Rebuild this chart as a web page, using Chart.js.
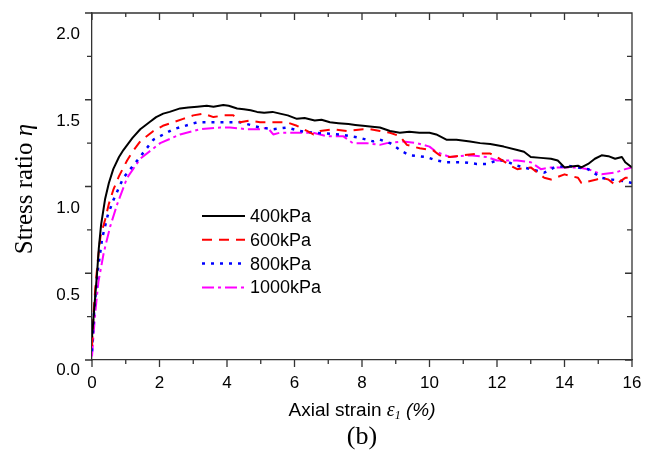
<!DOCTYPE html>
<html>
<head>
<meta charset="utf-8">
<script src="https://cdn.jsdelivr.net/npm/chart.js@4.4.1/dist/chart.umd.min.js"></script>
<style>
  html, body { margin: 0; padding: 0; background: #fff; }
  canvas { display: block; }
</style>
</head>
<body>
<canvas id="myChart" width="649" height="457"></canvas>
<script>
// series names / colours
const seriesNames = ['400kPa', '600kPa', '800kPa', '1000kPa'];
const seriesColors = ['#000000', '#ff0000', '#0000ff', '#ff00ff'];

// 400kPa
const strain400 = [0, 0.1, 0.15, 0.2, 0.27, 0.39, 0.5, 0.63, 0.8, 0.93, 1.2, 1.43, 1.7, 1.9, 2.11, 2.3, 2.61, 2.85, 3.12, 3.4, 3.6, 3.89, 4.05, 4.3, 4.5, 4.7, 4.89, 5.1, 5.35, 5.57, 5.8, 6.07, 6.3, 6.6, 6.8, 7.05, 7.3, 7.6, 7.8, 8.03, 8.3, 8.53, 8.83, 9.12, 9.4, 9.7, 10.0, 10.2, 10.5, 10.8, 11.2, 11.5, 11.8, 12.2, 12.6, 12.8, 13.0, 13.3, 13.6, 13.8, 14.0, 14.2, 14.4, 14.5, 14.7, 14.9, 15.1, 15.3, 15.5, 15.7, 15.8, 16.0];
const ratio400 = [0.13, 0.38, 0.5, 0.64, 0.78, 0.93, 1.02, 1.1, 1.17, 1.21, 1.28, 1.33, 1.37, 1.40, 1.42, 1.43, 1.45, 1.455, 1.46, 1.465, 1.46, 1.47, 1.465, 1.45, 1.445, 1.44, 1.43, 1.425, 1.43, 1.42, 1.41, 1.39, 1.395, 1.38, 1.385, 1.37, 1.365, 1.36, 1.355, 1.35, 1.345, 1.34, 1.32, 1.31, 1.315, 1.31, 1.31, 1.30, 1.27, 1.27, 1.26, 1.25, 1.245, 1.23, 1.21, 1.20, 1.17, 1.165, 1.16, 1.15, 1.11, 1.115, 1.12, 1.11, 1.13, 1.16, 1.18, 1.175, 1.16, 1.17, 1.14, 1.11];

// 600kPa
const strain600 = [0, 0.05, 0.1, 0.17, 0.25, 0.39, 0.5, 0.63, 0.8, 1.04, 1.2, 1.43, 1.82, 2.1, 2.41, 2.7, 3.0, 3.3, 3.6, 3.9, 4.19, 4.39, 4.68, 4.98, 5.37, 5.77, 6.07, 6.37, 6.56, 6.76, 7.15, 7.55, 8.03, 8.24, 8.53, 8.83, 9.12, 9.33, 9.71, 10.1, 10.3, 10.6, 11.0, 11.5, 11.8, 12.0, 12.4, 12.6, 13.0, 13.4, 13.6, 14.0, 14.4, 14.5, 14.95, 15.1, 15.3, 15.5, 15.8, 16.0];
const ratio600 = [0.08, 0.28, 0.42, 0.57, 0.71, 0.81, 0.9, 0.98, 1.06, 1.15, 1.2, 1.26, 1.32, 1.35, 1.37, 1.39, 1.41, 1.42, 1.40, 1.41, 1.41, 1.37, 1.38, 1.37, 1.37, 1.37, 1.35, 1.32, 1.30, 1.32, 1.33, 1.32, 1.33, 1.33, 1.32, 1.31, 1.29, 1.24, 1.22, 1.21, 1.18, 1.17, 1.18, 1.19, 1.19, 1.17, 1.12, 1.10, 1.11, 1.05, 1.04, 1.07, 1.05, 1.02, 1.04, 1.05, 1.04, 1.01, 1.05, 1.05];

// 800kPa
const strain800 = [0, 0.05, 0.1, 0.16, 0.3, 0.46, 0.63, 0.93, 1.34, 1.82, 2.41, 3.12, 3.6, 4.0, 4.39, 4.98, 5.37, 5.77, 6.16, 6.55, 7.35, 7.94, 8.33, 8.53, 8.83, 9.21, 9.42, 9.92, 10.2, 10.5, 11.0, 11.4, 11.7, 12.0, 12.2, 12.6, 13.0, 13.4, 13.7, 14.1, 14.4, 14.7, 15.1, 15.4, 15.8, 16.0];
const ratio800 = [0.05, 0.24, 0.36, 0.5, 0.7, 0.83, 0.92, 1.05, 1.15, 1.27, 1.33, 1.37, 1.37, 1.37, 1.37, 1.34, 1.33, 1.34, 1.32, 1.31, 1.30, 1.28, 1.26, 1.27, 1.25, 1.20, 1.18, 1.17, 1.15, 1.14, 1.14, 1.13, 1.13, 1.15, 1.15, 1.12, 1.10, 1.08, 1.11, 1.12, 1.11, 1.10, 1.05, 1.04, 1.03, 1.02];

// 1000kPa
const strain1000 = [0, 0.05, 0.1, 0.19, 0.35, 0.54, 0.75, 1.04, 1.43, 2.02, 2.61, 3.2, 3.8, 4.09, 4.6, 4.98, 5.2, 5.37, 5.57, 6.07, 6.55, 6.96, 7.44, 7.73, 8.14, 8.53, 8.74, 9.21, 9.62, 10.0, 10.2, 10.6, 11.2, 11.7, 12.0, 12.6, 13.0, 13.3, 13.6, 14.0, 14.4, 14.7, 15.1, 15.5, 15.8, 16.0];
const ratio1000 = [0.02, 0.16, 0.28, 0.45, 0.62, 0.77, 0.9, 1.05, 1.16, 1.25, 1.30, 1.33, 1.34, 1.34, 1.33, 1.33, 1.34, 1.30, 1.31, 1.31, 1.31, 1.29, 1.29, 1.25, 1.25, 1.24, 1.25, 1.26, 1.25, 1.23, 1.20, 1.17, 1.18, 1.17, 1.15, 1.15, 1.14, 1.10, 1.11, 1.11, 1.11, 1.10, 1.07, 1.08, 1.10, 1.11];

// tick labels (y labels sit half a minor step below their major tick, as in the figure)
const xTickLabels = ['0', '2', '4', '6', '8', '10', '12', '14', '16'];
const yTickLabels = ['0.0', '0.5', '1.0', '1.5', '2.0'];

const axisColor = '#333333';
const sans = '"Liberation Sans", Arial, sans-serif';
const serif = '"Liberation Serif", "Times New Roman", serif';

const toPoints = (xs, ys) => xs.map((v, i) => ({ x: v, y: ys[i] }));

// tick marks on all four sides, inward on top/right
const frame = {
  id: 'frame',
  afterDraw(chart) {
    const { ctx, chartArea: a, scales: { x, y } } = chart;
    ctx.save();
    ctx.strokeStyle = axisColor;
    ctx.lineWidth = 1.3;
    ctx.beginPath();
    ctx.moveTo(a.left, a.top);
    ctx.lineTo(a.right, a.top);
    ctx.lineTo(a.right, a.bottom);
    x.ticks.forEach(t => {
      const px = x.getPixelForValue(t.value);
      const len = t.value % 2 === 0 ? 7 : 4;
      ctx.moveTo(px, a.bottom); ctx.lineTo(px, a.bottom + len);
      ctx.moveTo(px, a.top); ctx.lineTo(px, a.top + len);
    });
    y.ticks.forEach(t => {
      if ((t.value * 4) % 1 !== 0) return;
      const py = y.getPixelForValue(t.value);
      const len = (t.value * 2) % 1 === 0 ? 7 : 5;
      ctx.moveTo(a.left, py); ctx.lineTo(a.left - len, py);
      ctx.moveTo(a.right, py); ctx.lineTo(a.right - len, py);
    });
    ctx.stroke();
    ctx.restore();
  }
};

// legend inside the plot
const insideLegend = {
  id: 'insideLegend',
  afterDraw(chart) {
    const { ctx } = chart;
    ctx.save();
    chart.data.datasets.forEach((ds, i) => {
      const yy = 216 + i * 23.8;
      ctx.strokeStyle = ds.borderColor;
      ctx.lineWidth = ds.borderWidth;
      ctx.setLineDash(ds.borderDash || []);
      ctx.beginPath();
      ctx.moveTo(202, yy);
      ctx.lineTo(245, yy);
      ctx.stroke();
      ctx.setLineDash([]);
      ctx.fillStyle = '#000';
      ctx.font = '18px ' + sans;
      ctx.textBaseline = 'middle';
      ctx.fillText(ds.label, 250, yy + 1);
    });
    ctx.restore();
  }
};

// axis titles with italic symbols, and the panel letter
const axisTitles = {
  id: 'axisTitles',
  afterDraw(chart) {
    const { ctx, chartArea: a } = chart;
    const drawParts = (parts, cx, cy) => {
      let w = 0;
      parts.forEach(p => { ctx.font = p.font; w += ctx.measureText(p.text).width; });
      let xx = cx - w / 2;
      parts.forEach(p => {
        ctx.font = p.font;
        ctx.fillText(p.text, xx, cy + (p.dy || 0));
        xx += ctx.measureText(p.text).width;
      });
    };
    const cx = (a.left + a.right) / 2;
    ctx.save();
    ctx.fillStyle = '#000';
    ctx.textBaseline = 'middle';
    drawParts([
      { text: 'Axial strain ', font: '19px ' + sans },
      { text: 'ε', font: 'italic 20px ' + serif },
      { text: '1', font: 'italic 12px ' + serif, dy: 5 },
      { text: ' (%)', font: 'italic 19px ' + sans },
    ], cx, 411);
    drawParts([{ text: '(b)', font: '26px ' + serif }], cx, 437);
    ctx.translate(25, 189);
    ctx.rotate(-Math.PI / 2);
    drawParts([
      { text: 'Stress ratio ', font: '25px ' + serif },
      { text: 'η', font: 'italic 25px ' + serif },
    ], 0, 0);
    ctx.restore();
  }
};

const ctx = document.getElementById('myChart');
const myChart = new Chart(ctx, {
  type: 'line',
  data: {
    datasets: [
      { label: seriesNames[0], data: toPoints(strain400, ratio400), borderColor: seriesColors[0], borderWidth: 2, borderDash: [] },
      { label: seriesNames[1], data: toPoints(strain600, ratio600), borderColor: seriesColors[1], borderWidth: 2, borderDash: [10, 7] },
      { label: seriesNames[2], data: toPoints(strain800, ratio800), borderColor: seriesColors[2], borderWidth: 2.5, borderDash: [3, 6] },
      { label: seriesNames[3], data: toPoints(strain1000, ratio1000), borderColor: seriesColors[3], borderWidth: 2, borderDash: [12, 4, 3, 4] },
    ],
  },
  options: {
    responsive: false,
    animation: false,
    devicePixelRatio: 1,
    elements: {
      point: { radius: 0 },
      line: { tension: 0, fill: false, borderJoinStyle: 'round' },
    },
    layout: { padding: { top: 13, right: 17, bottom: 0, left: 0 } },
    plugins: {
      legend: { display: false },
      tooltip: { enabled: false },
    },
    scales: {
      x: {
        type: 'linear',
        min: 0,
        max: 16,
        grid: { display: false, drawTicks: false },
        border: { display: true, color: axisColor, width: 1.3 },
        ticks: {
          stepSize: 1,
          autoSkip: false,
          maxRotation: 0,
          padding: 13,
          color: '#000',
          font: { family: sans, size: 17 },
          callback: (v) => (v % 2 === 0 ? xTickLabels[v / 2] : ''),
        },
        afterFit(scale) {
          scale.height = 457 - 360;
          scale.paddingLeft = 0;
          scale.paddingRight = 0;
        },
      },
      y: {
        type: 'linear',
        min: 0,
        max: 2,
        grid: { display: false, drawTicks: false },
        border: { display: true, color: axisColor, width: 1.3 },
        afterBuildTicks(scale) {
          const t = [];
          for (let k = 0; k <= 16; k++) t.push({ value: k * 0.125 });
          scale.ticks = t;
        },
        ticks: {
          autoSkip: false,
          padding: 12,
          color: '#000',
          font: { family: sans, size: 17 },
          callback: (v) => {
            if (v === 0) return ['', yTickLabels[0]];
            const i = (v + 0.125) / 0.5;
            return Number.isInteger(i) && i < yTickLabels.length ? yTickLabels[i] : '';
          },
        },
        afterFit(scale) {
          scale.width = 92;
          scale.paddingTop = 0;
          scale.paddingBottom = 0;
        },
      },
    },
  },
  plugins: [frame, insideLegend, axisTitles],
});
</script>
</body>
</html>
